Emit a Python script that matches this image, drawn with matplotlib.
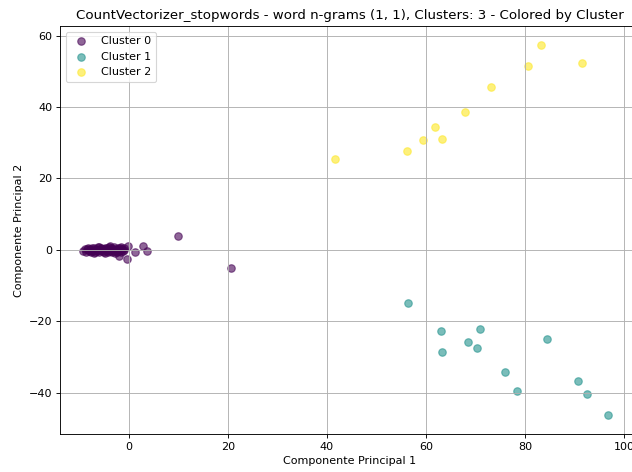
import numpy as np
import matplotlib.pyplot as plt

# Cluster 0 (dense group near origin plus a few outliers)
c0_x = [-9.2, -8.9, -8.7, -8.5, -8.3, -8.1, -7.9, -7.7, -7.5, -7.3, -7.1, -6.9,
        -6.7, -6.5, -6.3, -6.1, -5.9, -5.7, -5.5, -5.3, -5.1, -4.9, -4.7, -4.5,
        -4.3, -4.1, -3.9, -3.7, -3.5, -3.3, -3.1, -2.9, -2.7, -2.5, -2.3, -2.1,
        -1.9, -1.7, -1.5, -1.3, -1.1, -0.9, -8.0, -7.4, -6.6, -5.8, -5.0, -4.2,
        -3.4, -2.6, -1.8, -1.0, -7.0, -6.0, -4.8, -3.8, -2.8, -1.6,
        -0.1, 1.2, -0.3, -2.0, 2.8, 3.7, 10.0, 20.6]
c0_y = [-0.2, 0.3, -0.5, 0.1, 0.5, -0.4, 0.2, -0.6, 0.4, -0.1, 0.6, -0.5,
        0.2, -0.3, 0.7, -0.6, 0.1, 0.5, -0.4, 0.3, -0.7, 0.6, -0.2, 0.4,
        -0.5, 0.8, -0.3, 0.5, -0.6, 0.2, -0.4, 0.7, -0.1, 0.3, -0.7, 0.5,
        -0.2, 0.4, -0.5, 0.2, -0.3, 0.6, 0.0, -0.2, 0.0, -0.1, 0.1, 0.0,
        0.1, -0.2, 0.0, -0.1, -0.8, 0.9, -0.9, 1.0, -1.0, 0.9,
        1.2, -0.6, -2.6, -1.7, 1.1, -0.3, 3.9, -5.2]

# Cluster 1
c1_x = [56.3, 63.1, 63.3, 70.8, 68.5, 70.2, 84.4, 75.9, 78.3, 90.6, 92.6, 96.7]
c1_y = [-14.9, -22.7, -28.7, -22.2, -25.8, -27.6, -25.1, -34.2, -39.6, -36.7, -40.5, -46.4]

# Cluster 2
c2_x = [83.3, 80.5, 91.4, 73.1, 67.9, 61.8, 59.3, 63.3, 56.2, 41.7]
c2_y = [57.5, 51.6, 52.3, 45.7, 38.7, 34.3, 30.8, 31.1, 27.8, 25.4]

clusters = [(c0_x, c0_y), (c1_x, c1_y), (c2_x, c2_y)]
colors = plt.cm.viridis(np.linspace(0, 1, 3))

# reference looks like a downscaled render, so use a lower dpi
dpi = 80.6
fig, ax = plt.subplots(figsize=(632 / dpi, 472 / dpi), dpi=dpi)
for i, (xs, ys) in enumerate(clusters):
    ax.scatter(xs, ys, color=colors[i], alpha=0.6, s=45, label=f"Cluster {i}")

ax.set_title("CountVectorizer_stopwords - word n-grams (1, 1), Clusters: 3 - Colored by Cluster")
ax.set_xlabel("Componente Principal 1")
ax.set_ylabel("Componente Principal 2")
ax.legend(loc="upper left")
ax.grid(True)
ax.set_xlim(-13.9, 103.2)
fig.subplots_adjust(left=60 / 632, right=640 / 632, top=1 - 26 / 472, bottom=1 - 434 / 472)
plt.savefig("out.png", dpi=dpi)
